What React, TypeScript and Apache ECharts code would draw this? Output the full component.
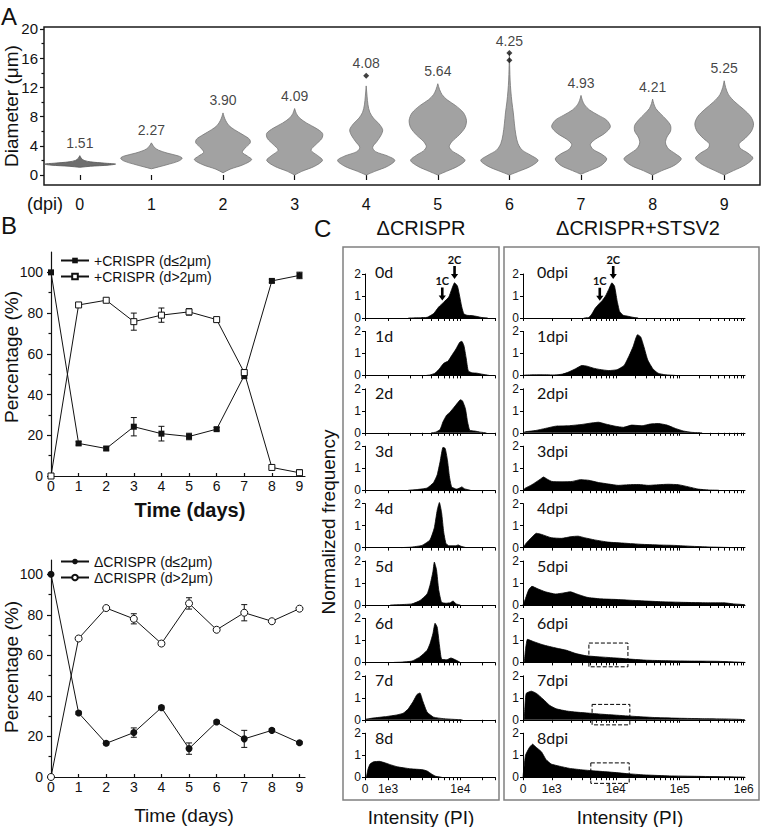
import React, { useEffect, useRef } from "react";
import * as echarts from "echarts";

const FONT = "Liberation Sans";
const LABEL_FONT = "Lato";

// ---------------- Panel A: violin plots ----------------
const dpiCategories = ["0", "1", "2", "3", "4", "5", "6", "7", "8", "9"];
const medianLabels = ["1.51", "2.27", "3.90", "4.09", "4.08", "5.64", "4.25", "4.93", "4.21", "5.25"];
// [diameter (µm), half-width as fraction of category band]
const violin0: [number, number][] = [[1.05, 0], [1.2, 0.15], [1.35, 0.4], [1.5, 0.5], [1.62, 0.35], [1.8, 0.15], [2.0, 0.06], [2.3, 0.02], [2.65, 0]];
const violin1: [number, number][] = [[0.85, 0], [1.1, 0.1], [1.5, 0.25], [1.9, 0.38], [2.3, 0.43], [2.6, 0.38], [3.0, 0.22], [3.4, 0.1], [3.8, 0.04], [4.4, 0]];
const violin2: [number, number][] = [[0.3, 0], [0.8, 0.1], [1.4, 0.28], [2.1, 0.4], [2.6, 0.34], [3.1, 0.27], [3.7, 0.31], [4.4, 0.38], [4.9, 0.37], [5.5, 0.28], [6.2, 0.16], [6.8, 0.08], [7.5, 0.035], [8.0, 0.015], [8.5, 0]];
const violin3: [number, number][] = [[0, 0], [0.5, 0.1], [1.2, 0.28], [2.0, 0.39], [2.6, 0.33], [3.4, 0.23], [4.2, 0.3], [5.0, 0.38], [5.7, 0.39], [6.4, 0.3], [7.1, 0.17], [7.8, 0.07], [8.4, 0.025], [9.1, 0]];
const violin4: [number, number][] = [[0, 0], [0.5, 0.12], [1.2, 0.3], [2.0, 0.4], [2.6, 0.3], [3.2, 0.13], [3.8, 0.09], [4.6, 0.15], [5.5, 0.21], [6.2, 0.23], [7.0, 0.18], [7.8, 0.1], [8.6, 0.05], [9.6, 0.025], [10.8, 0.012], [12.2, 0]];
const violin5: [number, number][] = [[0, 0], [0.5, 0.12], [1.2, 0.28], [2.0, 0.38], [2.7, 0.3], [3.3, 0.2], [3.9, 0.16], [4.6, 0.2], [5.5, 0.3], [6.5, 0.38], [7.5, 0.4], [8.5, 0.36], [9.5, 0.25], [10.3, 0.13], [11.0, 0.06], [11.7, 0.025], [12.5, 0]];
const violin6: [number, number][] = [[0, 0], [0.5, 0.13], [1.2, 0.3], [2.0, 0.4], [2.7, 0.3], [3.4, 0.18], [4.3, 0.12], [5.5, 0.09], [7.0, 0.07], [8.5, 0.055], [10.0, 0.035], [11.5, 0.02], [13.0, 0.01], [14.5, 0.005], [16.7, 0]];
const violin7: [number, number][] = [[0.1, 0], [0.6, 0.12], [1.3, 0.28], [2.2, 0.36], [2.9, 0.28], [3.5, 0.17], [4.2, 0.13], [4.9, 0.2], [5.7, 0.33], [6.6, 0.41], [7.5, 0.36], [8.2, 0.24], [8.9, 0.12], [9.6, 0.05], [10.2, 0.02], [10.9, 0]];
const violin8: [number, number][] = [[0, 0], [0.6, 0.13], [1.3, 0.3], [2.2, 0.4], [2.9, 0.32], [3.6, 0.22], [4.4, 0.18], [5.2, 0.2], [6.0, 0.25], [6.8, 0.25], [7.6, 0.19], [8.4, 0.11], [9.1, 0.045], [9.8, 0.015], [10.4, 0]];
const violin9: [number, number][] = [[0, 0], [0.6, 0.13], [1.4, 0.3], [2.3, 0.4], [3.0, 0.33], [3.7, 0.22], [4.3, 0.21], [5.0, 0.29], [6.0, 0.38], [7.0, 0.41], [8.0, 0.37], [9.0, 0.27], [10.0, 0.15], [11.0, 0.06], [12.0, 0.02], [12.9, 0]];
const violinProfiles = [violin0, violin1, violin2, violin3, violin4, violin5, violin6, violin7, violin8, violin9];
const outliers: [number, number][] = [[4, 13.6], [6, 15.7], [6, 16.7]];
const diameterTicks = [0, 4, 8, 12, 16, 20];
const diameterMinorTicks = [2, 6, 10, 14, 18];

// ---------------- Panel B ----------------
const days = [0, 1, 2, 3, 4, 5, 6, 7, 8, 9];
const crisprSmall = [100, 16, 13.5, 24.2, 20.8, 19.4, 23, 49.3, 95.8, 98.5];
const crisprSmallErr = [0, 0.8, 0.8, 4.5, 3.6, 1.6, 0.8, 1.5, 0.8, 1.6];
const crisprLarge = [0, 84, 86.3, 75.8, 79, 80.6, 76.8, 50.8, 4.2, 1.6];
const crisprLargeErr = [0, 0.8, 0.8, 4.2, 3.5, 1.6, 0.8, 1.2, 0.6, 1.5];
const deltaSmall = [100, 31.6, 16.6, 21.9, 34.2, 14, 27.1, 18.8, 23, 16.9];
const deltaSmallErr = [0, 0.8, 0.8, 2.3, 0.8, 2.8, 0.8, 4.2, 0.8, 0.6];
const deltaLarge = [0, 68.3, 83.3, 78, 65.8, 85.6, 72.6, 81, 76.8, 83];
const deltaLargeErr = [0, 0.8, 0.8, 2.5, 1, 2.8, 0.8, 4, 0.6, 0.6];
const pctTicks = [0, 20, 40, 60, 80, 100];
const pctMinorTicks = [10, 30, 50, 70, 90];
const seriesNames = ["+CRISPR (d≤2μm)", "+CRISPR (d>2μm)", "ΔCRISPR (d≤2μm)", "ΔCRISPR (d>2μm)"];

// ---------------- Panel C: histograms (x in display decades) ----------------
const leftTickPos = [0, 0.32, 1.32];
const leftTickLabels = ["0", "1e3", "1e4"];
const leftMax = 1.8;
const rightTickPos = [0, 0.45, 1.45, 2.45, 3.45];
const rightTickLabels = ["0", "1e3", "1e4", "1e5", "1e6"];
const rightMax = 3.47;
const leftRowLabels = ["0d", "1d", "2d", "3d", "4d", "5d", "6d", "7d", "8d"];
const rightRowLabels = ["0dpi", "1dpi", "2dpi", "3dpi", "4dpi", "5dpi", "6dpi", "7dpi", "8dpi"];

const h0d: [number, number][] = [[0.6, 0], [0.75, 0.01], [0.86, 0.03], [0.95, 0.2], [1.02, 0.5], [1.09, 0.72], [1.16, 0.95], [1.2, 1.3], [1.24, 1.6], [1.28, 1.45], [1.31, 1.0], [1.34, 0.5], [1.37, 0.18], [1.42, 0.12], [1.48, 0.11], [1.55, 0.07], [1.62, 0.02], [1.7, 0]];
const h1d: [number, number][] = [[0.85, 0], [0.9, 0.02], [0.97, 0.1], [1.03, 0.3], [1.09, 0.55], [1.15, 0.65], [1.2, 0.9], [1.26, 1.2], [1.31, 1.5], [1.34, 1.55], [1.37, 1.35], [1.4, 0.8], [1.43, 0.2], [1.48, 0.12], [1.55, 0.1], [1.63, 0.05], [1.72, 0]];
const h2d: [number, number][] = [[0.92, 0], [0.98, 0.03], [1.04, 0.15], [1.08, 0.5], [1.13, 0.8], [1.18, 0.95], [1.23, 1.15], [1.28, 1.35], [1.32, 1.5], [1.35, 1.45], [1.39, 1.1], [1.42, 0.5], [1.45, 0.12], [1.52, 0.08], [1.6, 0.03], [1.68, 0]];
const h3d: [number, number][] = [[0.6, 0], [0.72, 0.03], [0.86, 0.1], [0.95, 0.35], [1.0, 0.7], [1.04, 1.3], [1.08, 1.95], [1.11, 1.9], [1.14, 1.4], [1.17, 0.6], [1.2, 0.15], [1.27, 0.05], [1.31, 0.1], [1.34, 0.15], [1.38, 0.06], [1.46, 0]];
const h4d: [number, number][] = [[0.5, 0], [0.63, 0.02], [0.79, 0.1], [0.9, 0.35], [0.96, 0.9], [1.0, 1.7], [1.03, 2.05], [1.06, 1.6], [1.09, 0.7], [1.12, 0.2], [1.16, 0.08], [1.25, 0.08], [1.29, 0.12], [1.33, 0.06], [1.4, 0]];
const h5d: [number, number][] = [[0.35, 0], [0.44, 0.01], [0.65, 0.05], [0.76, 0.2], [0.86, 0.5], [0.9, 0.9], [0.94, 1.5], [0.96, 1.95], [0.99, 1.6], [1.02, 0.7], [1.06, 0.12], [1.12, 0.08], [1.18, 0.1], [1.22, 0.18], [1.26, 0.05], [1.32, 0]];
const h6d: [number, number][] = [[0.4, 0], [0.49, 0.01], [0.65, 0.06], [0.76, 0.25], [0.86, 0.55], [0.9, 0.85], [0.94, 1.3], [0.97, 1.78], [1.0, 1.6], [1.03, 0.8], [1.06, 0.15], [1.13, 0.12], [1.19, 0.2], [1.25, 0.12], [1.32, 0]];
const h7d: [number, number][] = [[0, 0.02], [0.11, 0.08], [0.3, 0.15], [0.44, 0.22], [0.53, 0.3], [0.6, 0.5], [0.67, 0.85], [0.72, 1.15], [0.76, 1.22], [0.8, 0.85], [0.86, 0.35], [0.95, 0.12], [1.09, 0.05], [1.23, 0.02], [1.35, 0]];
const h8d: [number, number][] = [[0.02, 0], [0.04, 0.35], [0.07, 0.6], [0.12, 0.7], [0.2, 0.72], [0.28, 0.65], [0.35, 0.57], [0.45, 0.47], [0.55, 0.42], [0.63, 0.38], [0.72, 0.36], [0.8, 0.34], [0.86, 0.28], [0.92, 0.15], [0.98, 0.04], [1.06, 0]];

const h0dpi: [number, number][] = [[0.95, 0], [1.03, 0.02], [1.08, 0.2], [1.13, 0.45], [1.19, 0.65], [1.24, 0.8], [1.29, 1.0], [1.34, 1.3], [1.39, 1.6], [1.43, 1.45], [1.47, 0.8], [1.51, 0.3], [1.57, 0.12], [1.64, 0.08], [1.72, 0.03], [1.8, 0]];
const h1dpi: [number, number][] = [[0, 0], [0.05, 0.02], [0.3, 0.03], [0.5, 0.02], [0.62, 0.06], [0.71, 0.15], [0.82, 0.3], [0.92, 0.45], [1.0, 0.42], [1.1, 0.33], [1.2, 0.27], [1.34, 0.22], [1.47, 0.26], [1.58, 0.45], [1.66, 0.9], [1.72, 1.3], [1.79, 1.85], [1.84, 1.75], [1.89, 1.3], [1.95, 0.7], [2.03, 0.3], [2.11, 0.1], [2.22, 0.03], [2.38, 0]];
const h2dpi: [number, number][] = [[0, 0], [0.04, 0.05], [0.19, 0.1], [0.35, 0.2], [0.51, 0.3], [0.71, 0.32], [0.92, 0.38], [1.08, 0.45], [1.18, 0.48], [1.29, 0.4], [1.44, 0.3], [1.57, 0.25], [1.7, 0.35], [1.86, 0.32], [1.99, 0.4], [2.12, 0.42], [2.25, 0.35], [2.38, 0.2], [2.51, 0.08], [2.64, 0.02], [2.8, 0]];
const h3dpi: [number, number][] = [[0, 0], [0.04, 0.1], [0.14, 0.25], [0.27, 0.5], [0.32, 0.6], [0.38, 0.5], [0.45, 0.4], [0.61, 0.38], [0.77, 0.4], [0.9, 0.48], [1.03, 0.45], [1.18, 0.35], [1.34, 0.28], [1.49, 0.22], [1.65, 0.25], [1.81, 0.26], [1.96, 0.22], [2.12, 0.25], [2.27, 0.27], [2.43, 0.25], [2.59, 0.15], [2.74, 0.05], [2.9, 0.01], [3.06, 0]];
const h4dpi: [number, number][] = [[0, 0], [0.05, 0.2], [0.13, 0.45], [0.21, 0.65], [0.29, 0.6], [0.44, 0.45], [0.6, 0.42], [0.76, 0.5], [0.86, 0.52], [0.96, 0.45], [1.12, 0.35], [1.33, 0.25], [1.59, 0.2], [1.85, 0.15], [2.11, 0.12], [2.37, 0.1], [2.63, 0.06], [2.89, 0.03], [3.15, 0.01], [3.3, 0]];
const h5dpi: [number, number][] = [[0, 0], [0.04, 0.3], [0.09, 0.7], [0.14, 0.85], [0.22, 0.75], [0.35, 0.6], [0.51, 0.5], [0.64, 0.55], [0.74, 0.6], [0.84, 0.5], [1.0, 0.35], [1.21, 0.28], [1.47, 0.25], [1.78, 0.2], [2.15, 0.15], [2.51, 0.12], [2.88, 0.1], [3.14, 0.1], [3.29, 0.05], [3.4, 0.03], [3.47, 0.01]];
const h6dpi: [number, number][] = [[0.02, 0], [0.04, 0.6], [0.07, 1.05], [0.16, 0.95], [0.31, 0.8], [0.52, 0.65], [0.68, 0.55], [0.83, 0.4], [0.99, 0.3], [1.2, 0.25], [1.46, 0.2], [1.67, 0.15], [1.93, 0.1], [2.19, 0.08], [2.6, 0.06], [3.02, 0.05], [3.23, 0.03], [3.39, 0.01], [3.47, 0]];
const h7dpi: [number, number][] = [[0.02, 0], [0.03, 0.6], [0.05, 1.2], [0.13, 1.3], [0.21, 1.2], [0.31, 0.95], [0.42, 0.65], [0.52, 0.5], [0.68, 0.4], [0.83, 0.35], [1.04, 0.3], [1.25, 0.25], [1.51, 0.2], [1.77, 0.15], [2.08, 0.1], [2.45, 0.07], [2.81, 0.05], [3.13, 0.04], [3.39, 0.02], [3.47, 0]];
const h8dpi: [number, number][] = [[0, 0], [0.01, 0.3], [0.04, 1.0], [0.1, 1.35], [0.15, 1.5], [0.21, 1.35], [0.29, 1.15], [0.36, 0.8], [0.44, 0.6], [0.57, 0.5], [0.73, 0.4], [0.94, 0.33], [1.15, 0.28], [1.41, 0.22], [1.67, 0.15], [1.93, 0.1], [2.29, 0.06], [2.71, 0.04], [3.13, 0.02], [3.39, 0.01], [3.47, 0]];

const leftHists = [h0d, h1d, h2d, h3d, h4d, h5d, h6d, h7d, h8d];
const rightHists = [h0dpi, h1dpi, h2dpi, h3dpi, h4dpi, h5dpi, h6dpi, h7dpi, h8dpi];

// annotations: [t, tip value]
const arrowsLeft = [{ label: "2C", t: 1.24, v: 1.77 }, { label: "1C", t: 1.07, v: 0.8 }];
const arrowsRight = [{ label: "2C", t: 1.41, v: 1.77 }, { label: "1C", t: 1.2, v: 0.78 }];
const dashedBoxes = [
  { row: 6, t: [1.03, 1.64], v: [-0.2, 0.88] },
  { row: 7, t: [1.08, 1.67], v: [-0.23, 0.7] },
  { row: 8, t: [1.06, 1.66], v: [-0.28, 0.65] },
];

const rowBase = (k: number) => 318 + 57.4 * k;

function minorLogTicks(pos: number[], max: number) {
  const out: number[] = [];
  pos.forEach((p, i) => {
    out.push(p);
    if (i === 0) return;
    for (let m = 2; m <= 9; m++) {
      const v = p + Math.log10(m);
      if (v <= max + 1e-6) out.push(v);
    }
  });
  return out;
}

function buildOption(): any {
  const grids: any[] = [
    { left: 44, top: 27, width: 716, height: 158, show: true, borderColor: "#1a1a1a", borderWidth: 1.5 },
    { left: 51, top: 252, width: 254, height: 224 },
    { left: 51, top: 560, width: 254, height: 217 },
  ];
  for (let k = 0; k < 9; k++) grids.push({ left: 365, top: rowBase(k) - 44, width: 130, height: 44 });
  for (let k = 0; k < 9; k++) grids.push({ left: 523, top: rowBase(k) - 44, width: 222, height: 44 });

  const ax = { color: "#111", width: 1.2 };
  const xAxes: any[] = [
    {
      type: "category", gridIndex: 0, data: dpiCategories, boundaryGap: true,
      axisLine: { show: false },
      axisTick: { show: true, alignWithLabel: true, length: 5, lineStyle: ax },
      axisLabel: { fontSize: 16, margin: 11, color: "#111", fontFamily: FONT },
      splitLine: { show: false },
    },
  ];
  const bX = (g: number) => ({
    type: "value", gridIndex: g, min: 0, max: 9.2,
    axisLine: { show: true, lineStyle: ax },
    axisTick: { show: true, inside: true, length: 3, customValues: days, lineStyle: ax },
    axisLabel: { customValues: days, fontSize: 14, margin: 3, color: "#111", fontFamily: FONT },
    splitLine: { show: false },
  });
  xAxes.push(bX(1), bX(2));

  const yAxes: any[] = [
    {
      type: "value", gridIndex: 0, min: -1.37, max: 20.27, position: "left",
      axisLine: { show: false },
      axisTick: { show: true, length: 4, customValues: diameterTicks, lineStyle: ax },
      axisLabel: { customValues: diameterTicks, fontSize: 15, margin: 6, color: "#111", fontFamily: FONT },
      splitLine: { show: false },
    },
    {
      type: "value", gridIndex: 0, min: -1.37, max: 20.27, position: "left",
      axisLine: { show: false },
      axisTick: { show: true, length: 2.5, customValues: diameterMinorTicks, lineStyle: ax },
      axisLabel: { show: false }, splitLine: { show: false },
    },
  ];
  const bY = (g: number, max: number) => [
    {
      type: "value", gridIndex: g, min: 0, max, position: "left",
      axisLine: { show: true, lineStyle: ax },
      axisTick: { show: true, length: 4, customValues: pctTicks, lineStyle: ax },
      axisLabel: { customValues: pctTicks, fontSize: 14, margin: 8, color: "#111", fontFamily: FONT },
      splitLine: { show: false },
    },
    {
      type: "value", gridIndex: g, min: 0, max, position: "left",
      axisLine: { show: false },
      axisTick: { show: true, length: 2.5, customValues: pctMinorTicks, lineStyle: ax },
      axisLabel: { show: false }, splitLine: { show: false },
    },
  ];
  yAxes.push(...bY(1, 110), ...bY(2, 107));

  const cx = { color: "#000", width: 1 };
  const cXAxis = (g: number, pos: number[], labels: string[], max: number, showLabel: boolean) => ({
    type: "value", gridIndex: g, min: 0, max,
    axisLine: { show: true, lineStyle: cx },
    axisTick: { show: true, length: 3, customValues: minorLogTicks(pos, max), lineStyle: cx },
    axisLabel: {
      show: showLabel, customValues: pos, fontSize: 12, margin: 6, color: "#111", fontFamily: FONT,
      formatter: (v: number) => {
        const i = pos.findIndex((p) => Math.abs(p - v) < 1e-6);
        return i >= 0 ? labels[i] : "";
      },
    },
    splitLine: { show: false },
  });
  const cYAxis = (g: number) => ({
    type: "value", gridIndex: g, min: 0, max: 2,
    axisLine: { show: true, lineStyle: cx },
    axisTick: { show: true, length: 3, customValues: [0, 1, 2], lineStyle: cx },
    axisLabel: { customValues: [0, 1, 2], fontSize: 12, margin: 4, color: "#111", fontFamily: FONT },
    splitLine: { show: false },
  });
  for (let k = 0; k < 9; k++) { xAxes.push(cXAxis(3 + k, leftTickPos, leftTickLabels, leftMax, k === 8)); yAxes.push(cYAxis(3 + k)); }
  for (let k = 0; k < 9; k++) { xAxes.push(cXAxis(12 + k, rightTickPos, rightTickLabels, rightMax, k === 8)); yAxes.push(cYAxis(12 + k)); }

  const violinTop = violinProfiles.map((p, i) => {
    let top = p[p.length - 1][0];
    outliers.forEach(([c, v]) => { if (c === i && v > top) top = v; });
    return top;
  });

  const series: any[] = [
    {
      type: "custom", xAxisIndex: 0, yAxisIndex: 0, silent: true,
      data: violinTop.map((t, i) => [i, t]),
      encode: { x: 0, y: 1 },
      renderItem: (params: any, api: any) => {
        const i = api.value(0) as number;
        const prof = violinProfiles[i];
        const bw = api.size([1, 0])[0];
        const pts: number[][] = [];
        prof.forEach(([v, w]) => { const c = api.coord([i, v]); pts.push([c[0] + w * bw, c[1]]); });
        for (let j = prof.length - 1; j >= 0; j--) { const [v, w] = prof[j]; const c = api.coord([i, v]); pts.push([c[0] - w * bw, c[1]]); }
        return {
          type: "polygon",
          shape: { points: pts, smooth: 0.3 },
          style: { fill: i === 0 ? "#6e6e6e" : "#a2a2a2", stroke: i === 0 ? "#555" : "#767676", lineWidth: 0.8 },
        };
      },
    },
    {
      type: "scatter", xAxisIndex: 0, yAxisIndex: 0, data: outliers, symbol: "diamond", symbolSize: [6, 6],
      itemStyle: { color: "#111" }, silent: true,
    },
    {
      type: "scatter", xAxisIndex: 0, yAxisIndex: 0, data: violinTop.map((t, i) => [i, t]), symbolSize: 1,
      itemStyle: { color: "transparent" }, silent: true,
      label: {
        show: true, position: "top", distance: 5, fontSize: 14, color: "#111", fontFamily: FONT,
        formatter: (p: any) => medianLabels[p.dataIndex],
      },
    },
  ];

  const errorSeries = (xi: number, yi: number, vals: number[], errs: number[]) => ({
    type: "custom", xAxisIndex: xi, yAxisIndex: yi, silent: true, z: 2,
    data: days.filter((_, i) => errs[i] > 0).map((d) => { const i = days.indexOf(d); return [d, vals[i] - errs[i], vals[i] + errs[i]]; }),
    encode: { x: 0, y: [1, 2] },
    renderItem: (params: any, api: any) => {
      const x = api.value(0), lo = api.value(1), hi = api.value(2);
      const a = api.coord([x, lo]), b = api.coord([x, hi]);
      const cap = 3;
      const st = { stroke: "#111", lineWidth: 1 };
      return {
        type: "group",
        children: [
          { type: "line", shape: { x1: a[0], y1: a[1], x2: b[0], y2: b[1] }, style: st },
          { type: "line", shape: { x1: a[0] - cap, y1: a[1], x2: a[0] + cap, y2: a[1] }, style: st },
          { type: "line", shape: { x1: b[0] - cap, y1: b[1], x2: b[0] + cap, y2: b[1] }, style: st },
        ],
      };
    },
  });
  const lineSeries = (name: string, xi: number, yi: number, vals: number[], symbol: string, size: number, filled: boolean) => ({
    name, type: "line", xAxisIndex: xi, yAxisIndex: yi, z: 3,
    data: days.map((d, i) => [d, vals[i]]),
    symbol, symbolSize: size, showSymbol: true,
    itemStyle: filled ? { color: "#111" } : { color: "#fff", borderColor: "#111", borderWidth: 1 },
    lineStyle: { color: "#111", width: 1 },
  });
  series.push(
    errorSeries(1, 2, crisprSmall, crisprSmallErr),
    errorSeries(1, 2, crisprLarge, crisprLargeErr),
    lineSeries(seriesNames[0], 1, 2, crisprSmall, "rect", 6, true),
    lineSeries(seriesNames[1], 1, 2, crisprLarge, "rect", 6, false),
    errorSeries(2, 4, deltaSmall, deltaSmallErr),
    errorSeries(2, 4, deltaLarge, deltaLargeErr),
    lineSeries(seriesNames[2], 2, 4, deltaSmall, "circle", 7, true),
    lineSeries(seriesNames[3], 2, 4, deltaLarge, "circle", 7, false),
  );

  const histSeries = (xi: number, yi: number, data: [number, number][]) => ({
    type: "line", xAxisIndex: xi, yAxisIndex: yi, data, symbol: "none", silent: true, clip: false,
    smooth: 0.15,
    lineStyle: { color: "#000", width: 0.8 },
    areaStyle: { color: "#000", opacity: 1 },
  });
  // yAxis indices for C start at 6
  for (let k = 0; k < 9; k++) series.push(histSeries(3 + k, 6 + k, leftHists[k]));
  for (let k = 0; k < 9; k++) series.push(histSeries(12 + k, 15 + k, rightHists[k]));

  const legendBase = {
    orient: "vertical", itemGap: 1, itemWidth: 28, itemHeight: 7, padding: 0, selectedMode: false,
    textStyle: { fontSize: 14, color: "#111", fontFamily: FONT, lineHeight: 15 },
  };

  return {
    animation: false,
    backgroundColor: "#fff",
    textStyle: { fontFamily: FONT },
    grid: grids,
    xAxis: xAxes,
    yAxis: yAxes,
    legend: [
      { ...legendBase, data: [seriesNames[0], seriesNames[1]], left: 60, top: 253 },
      { ...legendBase, data: [seriesNames[2], seriesNames[3]], left: 60, top: 554 },
    ],
    series,
  };
}

function text(x: number, y: number, t: string, fontSize: number, opts: any = {}) {
  return {
    type: "text", x, y, rotation: opts.rotation || 0, silent: true,
    style: {
      text: t, fontSize, fontFamily: opts.fontFamily || FONT, fontWeight: opts.fontWeight || "normal",
      fill: opts.fill || "#111", align: opts.align || "center", verticalAlign: opts.verticalAlign || "middle",
    },
  };
}

function buildGraphics(chart: any) {
  const els: any[] = [
    text(1, 16, "A", 24, { align: "left" }),
    text(1, 225, "B", 24, { align: "left" }),
    text(314, 228, "C", 24, { align: "left" }),
    text(27, 204, "(dpi)", 18, { align: "left" }),
    text(11, 106, "Diameter (μm)", 19, { rotation: Math.PI / 2 }),
    text(11, 357, "Percentage (%)", 19, { rotation: Math.PI / 2 }),
    text(11, 667, "Percentage (%)", 19, { rotation: Math.PI / 2 }),
    text(190, 510, "Time (days)", 20, { fontWeight: "bold" }),
    text(184, 815, "Time (days)", 19),
    text(421, 228, "ΔCRISPR", 20),
    text(638, 228, "ΔCRISPR+STSV2", 20),
    text(328, 522, "Normalized frequency", 19, { rotation: Math.PI / 2 }),
    text(421, 817, "Intensity (PI)", 19),
    text(630, 817, "Intensity (PI)", 19),
    { type: "rect", shape: { x: 343, y: 247, width: 156, height: 553 }, style: { fill: "none", stroke: "#808080", lineWidth: 1.5 }, silent: true },
    { type: "rect", shape: { x: 504, y: 247, width: 255, height: 553 }, style: { fill: "none", stroke: "#808080", lineWidth: 1.5 }, silent: true },
  ];
  for (let k = 0; k < 9; k++) {
    const y = rowBase(k) - (k === 0 ? 47 : 40);
    els.push(text(375, y, leftRowLabels[k], 16, { align: "left", fontFamily: LABEL_FONT }));
    els.push(text(537, y, rightRowLabels[k], 16, { align: "left", fontFamily: LABEL_FONT }));
  }
  const arrow = (x: number, y: number) => ({
    type: "polygon", silent: true,
    shape: { points: [[x - 1.3, y - 13], [x + 1.3, y - 13], [x + 1.3, y - 5], [x + 3.6, y - 5], [x, y], [x - 3.6, y - 5], [x - 1.3, y - 5]] },
    style: { fill: "#000" },
  });
  const addArrows = (list: any[], xi: number, yi: number) => {
    list.forEach((a) => {
      const p = chart.convertToPixel({ xAxisIndex: xi, yAxisIndex: yi }, [a.t, a.v]);
      els.push(arrow(p[0], p[1]));
      els.push(text(p[0], p[1] - 20, a.label, 11, { fontWeight: "bold", fontFamily: LABEL_FONT }));
    });
  };
  addArrows(arrowsLeft, 3, 6);
  addArrows(arrowsRight, 12, 15);
  dashedBoxes.forEach((b) => {
    const finder = { xAxisIndex: 12 + b.row, yAxisIndex: 15 + b.row };
    const p1 = chart.convertToPixel(finder, [b.t[0], b.v[1]]);
    const p2 = chart.convertToPixel(finder, [b.t[1], b.v[0]]);
    els.push({
      type: "rect", silent: true, z: 100,
      shape: { x: p1[0], y: p1[1], width: p2[0] - p1[0], height: p2[1] - p1[1] },
      style: { fill: "none", stroke: "#000", lineWidth: 1, lineDash: [4, 2] },
    });
  });
  return els;
}

export default function App() {
  const ref = useRef<HTMLDivElement>(null);
  useEffect(() => {
    if (!ref.current) return;
    const chart = echarts.init(ref.current, null, { renderer: "svg" });
    chart.setOption(buildOption());
    chart.setOption({ graphic: { elements: buildGraphics(chart) } });
    return () => chart.dispose();
  }, []);
  return <div ref={ref} style={{ position: "absolute", left: 0, top: 0, width: 762, height: 827 }} />;
}
